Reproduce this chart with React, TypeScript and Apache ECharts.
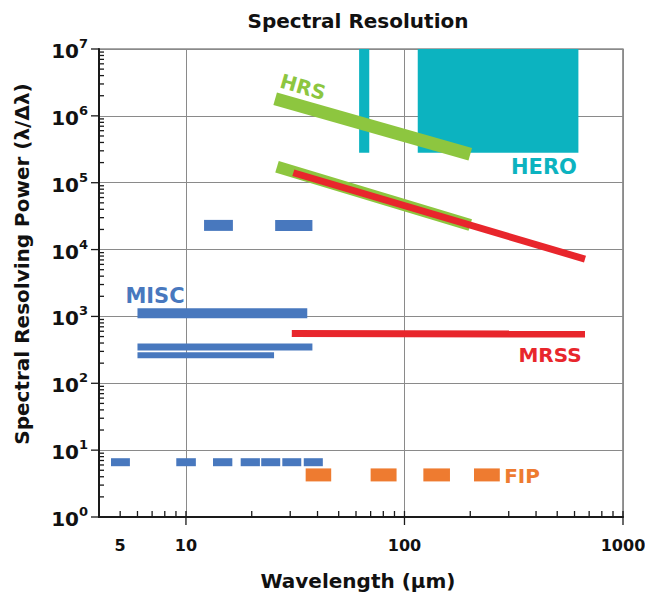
import React, { useEffect, useRef } from "react";
import * as echarts from "echarts";

const FONT = "'DejaVu Sans', 'Liberation Sans', sans-serif";

// ---- axis ticks / labels ----
const xTickLabels = [5, 10, 100, 1000];
const xMajorTicks = [10, 100, 1000];
const xMinorTicks = [5, 6, 7, 8, 9, 20, 30, 40, 50, 60, 70, 80, 90, 200, 300, 400, 500, 600, 700, 800, 900];
const yDecades = [1, 10, 100, 1000, 10000, 100000, 1000000, 10000000];
const yMinorFactors = [2, 3, 4, 5, 6, 7, 8, 9];

// ---- data (wavelength in µm, resolving power) ----
// HERO blocks: [λmin, λmax, Rmin, Rmax]
const heroBlocks = [
  [62, 69, 2.8e5, 1e7],
  [115, 625, 2.8e5, 1e7],
];
// HRS bands: [[λ, R], [λ, R]]
const hrsUpper = [[25.6, 1.81e6], [200, 2.66e5]];
const hrsLower = [[26.1, 1.74e5], [200, 2.33e4]];
// MRSS
const mrssUpper = [[31.0, 1.41e5], [670, 7.2e3]];
const mrssLower = [[30.5, 555], [670, 545]];
// MISC bars: [λmin, λmax, R]
const miscHigh = [[12.1, 16.4, 2.3e4], [25.6, 37.9, 2.3e4]];
const miscKilo = [[6.0, 35.9, 1.12e3]];
const miscMid = [[6.0, 37.9, 349]];
const miscLowMid = [[6.0, 25.3, 262]];
const miscLow = [
  [4.54, 5.54, 6.6],
  [9.03, 11.1, 6.6],
  [13.3, 16.3, 6.6],
  [17.8, 21.8, 6.6],
  [22.1, 27.0, 6.6],
  [27.6, 33.7, 6.6],
  [34.6, 42.3, 6.6],
];
// FIP bars
const fipBars = [[35.3, 46.2, 4.26], [70.0, 92.0, 4.26], [122, 161.5, 4.26], [208, 273, 4.26]];

const TEAL = "#0cb3c0";
const GREEN = "#8dc63f";
const RED = "#e8262c";
const BLUE = "#4878be";
const ORANGE = "#ee7b30";
const AXIS = "#1a1a1a";

function hbar(name: string, data: number[][], color: string, thick: number) {
  return {
    type: "custom",
    name,
    coordinateSystem: "cartesian2d",
    silent: true,
    clip: false,
    z: 3,
    data,
    encode: { x: [0, 1], y: 2 },
    renderItem: (_p: any, api: any) => {
      const a = api.coord([api.value(0), api.value(2)]);
      const b = api.coord([api.value(1), api.value(2)]);
      return {
        type: "rect",
        shape: { x: a[0], y: a[1] - thick / 2, width: b[0] - a[0], height: thick },
        style: { fill: color },
      };
    },
  };
}

function band(name: string, data: number[][], color: string, width: number, z: number) {
  return {
    type: "line",
    name,
    silent: true,
    symbol: "none",
    z,
    data,
    lineStyle: { color, width, cap: "butt" },
  };
}

function ticks(name: string, data: number[][], kind: string) {
  return {
    type: "custom",
    name,
    coordinateSystem: "cartesian2d",
    silent: true,
    clip: false,
    z: 10,
    data,
    renderItem: (_p: any, api: any) => {
      const p = api.coord([api.value(0), api.value(1)]);
      let s;
      if (kind === "xMajor") s = { x1: p[0], y1: p[1] - 6, x2: p[0], y2: p[1] + 8 };
      else if (kind === "xMinor") s = { x1: p[0], y1: p[1] - 6, x2: p[0], y2: p[1] };
      else if (kind === "yMajor") s = { x1: p[0] - 8, y1: p[1], x2: p[0], y2: p[1] };
      else s = { x1: p[0], y1: p[1], x2: p[0] + 5, y2: p[1] };
      return { type: "line", shape: s, style: { stroke: AXIS, lineWidth: 1.3 } };
    },
  };
}

export default function App() {
  const ref = useRef<HTMLDivElement>(null);
  useEffect(() => {
    if (!ref.current) return;
    const chart = echarts.init(ref.current, null, { renderer: "svg" });
    const yMinor: number[][] = [];
    yDecades.slice(0, -1).forEach((d) => yMinorFactors.forEach((f) => yMinor.push([4, f * d])));

    const option: any = {
      animation: false,
      textStyle: { fontFamily: FONT },
      grid: {
        left: 99,
        right: 22,
        top: 49,
        bottom: 85,
        show: true,
        borderColor: "#555",
        borderWidth: 1.2,
        containLabel: false,
        outerBoundsMode: "none",
      },
      xAxis: {
        type: "log",
        logBase: 10,
        min: 4,
        max: 1000,
        axisLine: { show: true, onZero: false, lineStyle: { color: AXIS, width: 2 } },
        axisTick: { show: false },
        axisLabel: { show: false },
        splitLine: { show: true, lineStyle: { color: "#8a8a8a", width: 1 } },
        minorTick: { show: false },
      },
      yAxis: {
        type: "log",
        logBase: 10,
        min: 1,
        max: 1e7,
        axisLine: { show: true, onZero: false, lineStyle: { color: AXIS, width: 2 } },
        axisTick: { show: false },
        splitLine: { show: true, lineStyle: { color: "#8a8a8a", width: 1 } },
        axisLabel: {
          margin: 11,
          formatter: (v: number) => `{b|10}{s|${Math.round(Math.log10(v))}}`,
          rich: {
            b: { fontFamily: FONT, fontSize: 20, fontWeight: "bold", color: "#111", lineHeight: 24, verticalAlign: "bottom" },
            s: { fontFamily: FONT, fontSize: 13, fontWeight: "bold", color: "#111", lineHeight: 14, verticalAlign: "top" },
          },
        },
      },
      series: [
        {
          type: "custom",
          name: "HERO",
          coordinateSystem: "cartesian2d",
          silent: true,
          z: 2,
          data: heroBlocks,
          encode: { x: [0, 1], y: [2, 3] },
          renderItem: (_p: any, api: any) => {
            const a = api.coord([api.value(0), api.value(3)]);
            const b = api.coord([api.value(1), api.value(2)]);
            return {
              type: "rect",
              shape: { x: a[0], y: a[1], width: b[0] - a[0], height: b[1] - a[1] },
              style: { fill: TEAL },
            };
          },
        },
        band("HRS upper", hrsUpper, GREEN, 13, 3),
        band("HRS lower", hrsLower, GREEN, 12, 3),
        band("MRSS upper", mrssUpper, RED, 7, 4),
        band("MRSS lower", mrssLower, RED, 7, 4),
        hbar("MISC high", miscHigh, BLUE, 11),
        hbar("MISC kilo", miscKilo, BLUE, 10),
        hbar("MISC mid", miscMid, BLUE, 7),
        hbar("MISC low mid", miscLowMid, BLUE, 6),
        hbar("MISC low", miscLow, BLUE, 8),
        hbar("FIP", fipBars, ORANGE, 13),
        ticks("x major ticks", xMajorTicks.map((v) => [v, 1]), "xMajor"),
        ticks("x minor ticks", xMinorTicks.map((v) => [v, 1]), "xMinor"),
        ticks("y major ticks", yDecades.map((v) => [4, v]), "yMajor"),
        ticks("y minor ticks", yMinor, "yMinor"),
        {
          type: "custom",
          name: "x labels",
          coordinateSystem: "cartesian2d",
          silent: true,
          clip: false,
          data: xTickLabels.map((v) => [v, 1]),
          renderItem: (_p: any, api: any) => {
            const p = api.coord([api.value(0), api.value(1)]);
            return {
              type: "text",
              x: p[0],
              y: p[1] + 28,
              style: {
                text: String(api.value(0)),
                fontFamily: FONT,
                fontSize: 16,
                fontWeight: "bold",
                fill: "#111",
                align: "center",
                verticalAlign: "middle",
              },
            };
          },
        },
      ],
      graphic: [
        {
          type: "text",
          x: 358,
          y: 21,
          style: { text: "Spectral Resolution", fontFamily: FONT, fontSize: 20, fontWeight: "bold", fill: "#111", align: "center", verticalAlign: "middle" },
        },
        {
          type: "text",
          x: 358,
          y: 581,
          style: { text: "Wavelength (\u03bcm)", fontFamily: FONT, fontSize: 20, fontWeight: "bold", fill: "#111", align: "center", verticalAlign: "middle" },
        },
        {
          type: "text",
          x: 22,
          y: 264,
          rotation: Math.PI / 2,
          style: { text: "Spectral Resolving Power (\u03bb/\u0394\u03bb)", fontFamily: FONT, fontSize: 20, fontWeight: "bold", fill: "#111", align: "center", verticalAlign: "middle" },
        },
        {
          type: "text",
          x: 303,
          y: 87,
          rotation: -0.28,
          z: 20,
          style: { text: "HRS", fontFamily: FONT, fontSize: 20, fontWeight: "bold", fill: GREEN, align: "center", verticalAlign: "middle" },
        },
        {
          type: "text",
          x: 544,
          y: 167,
          z: 20,
          style: { text: "HERO", fontFamily: FONT, fontSize: 21, fontWeight: "bold", fill: TEAL, align: "center", verticalAlign: "middle" },
        },
        {
          type: "text",
          x: 155,
          y: 296,
          z: 20,
          style: { text: "MISC", fontFamily: FONT, fontSize: 21, fontWeight: "bold", fill: BLUE, align: "center", verticalAlign: "middle" },
        },
        {
          type: "text",
          x: 550,
          y: 355,
          z: 20,
          style: { text: "MRSS", fontFamily: FONT, fontSize: 20, fontWeight: "bold", fill: RED, align: "center", verticalAlign: "middle" },
        },
        {
          type: "text",
          x: 522,
          y: 476,
          z: 20,
          style: { text: "FIP", fontFamily: FONT, fontSize: 20, fontWeight: "bold", fill: ORANGE, align: "center", verticalAlign: "middle" },
        },
      ],
    };
    chart.setOption(option);
    return () => chart.dispose();
  }, []);
  return <div ref={ref} style={{ position: "absolute", left: 0, top: 0, width: 645, height: 602 }} />;
}
